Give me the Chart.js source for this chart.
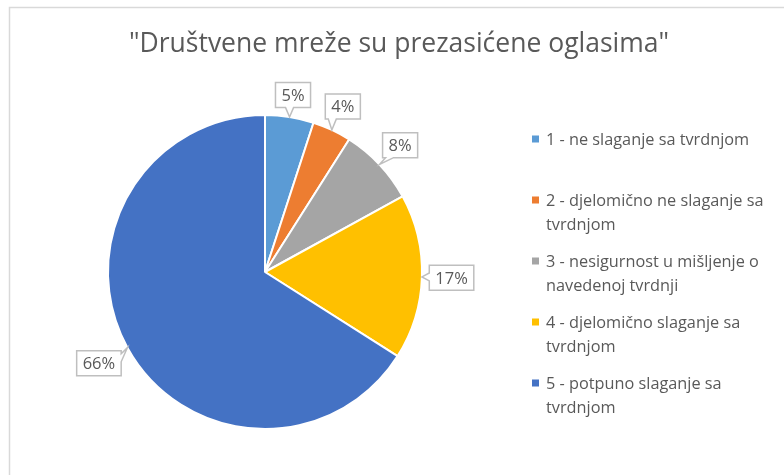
<!DOCTYPE html>
<html>
<head>
<meta charset="utf-8">
<script src="https://cdn.jsdelivr.net/npm/chart.js@4.4.0/dist/chart.umd.min.js"></script>
<style>
  html, body { margin: 0; padding: 0; background: #fff; }
  #wrap { width: 784px; height: 475px; position: relative; }
</style>
</head>
<body>
<div id="wrap"><canvas id="pieChart" width="784" height="475"></canvas></div>
<script>
const chartTitle = '"Društvene mreže su prezasićene oglasima"';
const categories = [
  ['1 - ne slaganje sa tvrdnjom'],
  ['2 - djelomično ne slaganje sa', 'tvrdnjom'],
  ['3 - nesigurnost u mišljenje o', 'navedenoj tvrdnji'],
  ['4 - djelomično slaganje sa', 'tvrdnjom'],
  ['5 - potpuno slaganje sa', 'tvrdnjom']
];
const shares = [5, 4, 8, 17, 66];
const sliceColors = ['#5B9BD5', '#ED7D31', '#A5A5A5', '#FFC000', '#4472C4'];

const textColor = '#595959';
const fontFamily = '"Open Sans", sans-serif';

function drawCallout(ctx, cx, cy, w, h, tip) {
  const l = cx - w / 2, r = cx + w / 2, t = cy - h / 2, b = cy + h / 2;
  const relX = (tip.x - cx) / (w / 2), relY = (tip.y - cy) / (h / 2);
  const half = 4;
  const clamp = (v, a, c) => Math.max(a, Math.min(c, v));
  let side;
  if (Math.abs(relX) > Math.abs(relY)) side = relX > 0 ? 'right' : 'left';
  else side = relY > 0 ? 'bottom' : 'top';

  const pts = [[l, t]];
  if (side === 'top') {
    const m = clamp(tip.x, l + half + 3, r - half - 3);
    pts.push([m - half, t], [tip.x, tip.y], [m + half, t]);
  }
  pts.push([r, t]);
  if (side === 'right') {
    const m = clamp(tip.y, t + half + 3, b - half - 3);
    pts.push([r, m - half], [tip.x, tip.y], [r, m + half]);
  }
  pts.push([r, b]);
  if (side === 'bottom') {
    const m = clamp(tip.x, l + half + 3, r - half - 3);
    pts.push([m + half, b], [tip.x, tip.y], [m - half, b]);
  }
  pts.push([l, b]);
  if (side === 'left') {
    const m = clamp(tip.y, t + half + 3, b - half - 3);
    pts.push([l, m + half], [tip.x, tip.y], [l, m - half]);
  }

  ctx.beginPath();
  pts.forEach((p, i) => i ? ctx.lineTo(p[0], p[1]) : ctx.moveTo(p[0], p[1]));
  ctx.closePath();
  ctx.fillStyle = '#fff';
  ctx.fill();
  ctx.strokeStyle = '#bfbfbf';
  ctx.lineWidth = 1.5;
  ctx.stroke();
}

const decorPlugin = {
  id: 'decor',
  beforeDraw(chart) {
    const ctx = chart.ctx;
    ctx.save();
    ctx.fillStyle = '#fff';
    ctx.fillRect(0, 0, chart.width, chart.height);
    // outer frame
    ctx.strokeStyle = '#d9d9d9';
    ctx.lineWidth = 1.5;
    ctx.strokeRect(9.5, 7.5, chart.width + 20, chart.height + 20);
    // title
    ctx.fillStyle = textColor;
    ctx.font = `26.5px ${fontFamily}`;
    ctx.textAlign = 'center';
    ctx.textBaseline = 'middle';
    ctx.fillText(chartTitle, 399, 44);
    ctx.restore();
  },
  afterDatasetsDraw(chart) {
    const ctx = chart.ctx;
    const meta = chart.getDatasetMeta(0);
    ctx.save();
    ctx.font = `16.5px ${fontFamily}`;
    meta.data.forEach((arc, i) => {
      const {x, y, startAngle, endAngle, outerRadius} =
        arc.getProps(['x', 'y', 'startAngle', 'endAngle', 'outerRadius'], true);
      const mid = (startAngle + endAngle) / 2;
      const dx = Math.cos(mid), dy = Math.sin(mid);
      const text = shares[i] + '%';
      const w = ctx.measureText(text).width + 12, h = 25;
      const ext = Math.abs(dx) * w / 2 + Math.abs(dy) * h / 2;
      const cx = x + dx * (outerRadius + 7 + ext);
      const cy = y + dy * (outerRadius + 7 + ext);
      const tip = {x: x + dx * outerRadius, y: y + dy * outerRadius};
      drawCallout(ctx, cx, cy, w, h, tip);
      ctx.fillStyle = textColor;
      ctx.textAlign = 'center';
      ctx.textBaseline = 'middle';
      ctx.fillText(text, cx, cy + 1);
    });
    ctx.restore();
  },
  afterDraw(chart) {
    // legend on the right
    const ctx = chart.ctx;
    const legendX = 532, firstY = 139, itemGap = 61, lineGap = 24.5;
    ctx.save();
    ctx.font = `16.3px ${fontFamily}`;
    ctx.textAlign = 'left';
    ctx.textBaseline = 'middle';
    categories.forEach((lines, i) => {
      const y0 = firstY + i * itemGap;
      ctx.fillStyle = sliceColors[i];
      ctx.fillRect(legendX, y0 - 3.5, 7, 7);
      ctx.fillStyle = textColor;
      lines.forEach((ln, j) => ctx.fillText(ln, legendX + 14, y0 + j * lineGap + 1));
    });
    ctx.restore();
  }
};

const ctx = document.getElementById('pieChart').getContext('2d');
new Chart(ctx, {
  type: 'pie',
  data: {
    labels: categories,
    datasets: [{
      data: shares,
      backgroundColor: sliceColors,
      borderColor: '#ffffff',
      borderWidth: 2
    }]
  },
  options: {
    responsive: false,
    animation: false,
    radius: 157,
    layout: { padding: { left: 100, right: 354, top: 110, bottom: 41 } },
    plugins: {
      legend: { display: false },
      title: { display: false },
      tooltip: { enabled: false }
    }
  },
  plugins: [decorPlugin]
});
</script>
</body>
</html>
